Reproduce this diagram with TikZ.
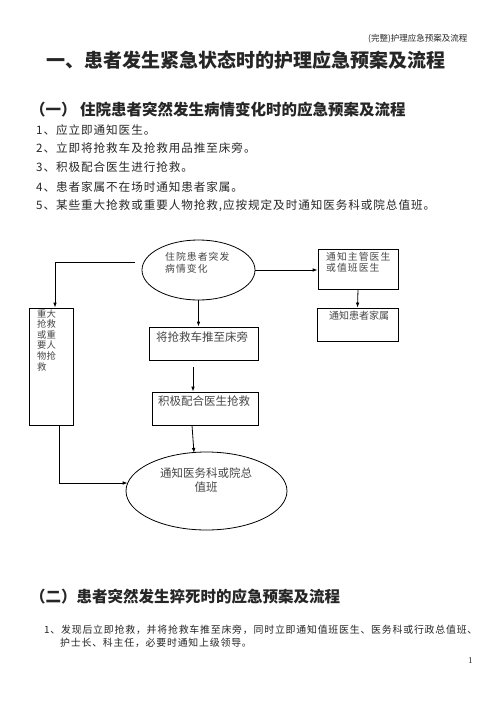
\documentclass[tikz,border=0pt]{standalone}
\usepackage{fontspec}
\setmainfont{Liberation Serif}
\newfontfamily\cjk{Noto Sans CJK SC}
\newfontfamily\cjks{Noto Sans CJK SC}[LetterSpace=8]
\newfontfamily\cjkw{Noto Sans CJK SC}[LetterSpace=11]
\usetikzlibrary{shapes.geometric,arrows.meta}
\begin{document}
\begin{tikzpicture}[x=1pt,y=-1pt,
  txt/.style={inner sep=0pt,anchor=west,text=black!85},
  box/.style={draw,line width=0.8pt,rectangle,inner sep=0pt},
  oval/.style={draw,line width=0.8pt,ellipse,inner sep=0pt},
  ftxt/.style={inner sep=0pt,text=black!72,font=\cjk},
  arr/.style={line width=0.8pt,-{Latex[length=5pt,width=3.6pt]}},
  ln/.style={line width=0.8pt}]
\useasboundingbox[fill=white] (0,0) rectangle (496,702);
% header
\node[txt,font=\cjk\fontsize{8.5}{10}\selectfont] (hdr) at (368,39) {(完整)护理应急预案及流程};
% title
\node[txt,font=\cjk\bfseries\fontsize{19}{22}\selectfont] (title) at (46,60) {一、患者发生紧急状态时的护理应急预案及流程};
% section 1
\node[txt,font=\cjk\bfseries\fontsize{15.5}{18}\selectfont] (s1) at (30,110) {（一） 住院患者突然发生病情变化时的应急预案及流程};
\begin{scope}[every node/.style={txt,font=\cjks\fontsize{11.6}{14}\selectfont}]
\node (i1) at (36,130) {1、应立即通知医生。};
\node (i2) at (36,148.5) {2、立即将抢救车及抢救用品推至床旁。};
\node (i3) at (36,167.5) {3、积极配合医生进行抢救。};
\node (i4) at (36,187) {4、患者家属不在场时通知患者家属。};
\node (i5) at (36,206) {5、某些重大抢救或重要人物抢救,应按规定及时通知医务科或院总值班。};
\end{scope}
% flowchart shapes
\node[oval,minimum width=113,minimum height=60] (e1) at (198.5,270) {};
\node[box,minimum width=44,minimum height=117] (lb) at (51,366.5) {};
\node[box,minimum width=109,minimum height=33] (b2) at (203.5,343.5) {};
\node[box,minimum width=106,minimum height=33] (b3) at (205,408.5) {};
\node[oval,minimum width=161,minimum height=78] (e2) at (206.5,491) {};
\node[box,minimum width=80,minimum height=40] (r1) at (358,269) {};
\node[box,minimum width=81,minimum height=33] (r2) at (357.5,324.5) {};
% flowchart texts
\node[ftxt,anchor=north west,align=left,font=\cjkw\fontsize{9.8}{12}\selectfont] (t1) at (165,252) {住院患者突发\\病情变化};
\node[ftxt,anchor=north west,align=left,font=\cjk\fontsize{9.3}{10.6}\selectfont] (tl) at (37,309) {重大\\抢救\\或重\\要人\\物抢\\救};
\node[ftxt,anchor=west,font=\cjk\fontsize{11.5}{13}\selectfont] (t2) at (156,337) {将抢救车推至床旁};
\node[ftxt,anchor=west,font=\cjk\fontsize{11.5}{13}\selectfont] (t3) at (158,401) {积极配合医生抢救};
\node[ftxt,align=center,font=\cjk\fontsize{11.5}{14}\selectfont] (t4) at (206,480) {通知医务科或院总\\值班};
\node[ftxt,anchor=north west,align=left,font=\cjkw\fontsize{9.8}{10.3}\selectfont] (tr1) at (326,252.5) {通知主管医生\\或值班医生};
\node[ftxt,anchor=west,font=\cjk\fontsize{10}{12}\selectfont] (tr2) at (329,316) {通知患者家属};
% connectors
\coordinate (c1) at (135,262);
\draw[arr] (c1) -| ([xshift=4pt]lb.north);
\draw[arr] (e1.south) -- (e1.south |- b2.north);
\coordinate (c2) at (193,367);
\draw[arr] (c2) -- (c2 |- b3.north);
\coordinate (c3) at (194,453);
\draw[arr] ([xshift=-13pt]b3.south) -- (c3);
\coordinate (c4) at (127.7,483);
\draw[arr] ([xshift=8pt]lb.south) |- (c4);
\draw[arr] (e1.east) -- (e1.east -| r1.west);
\draw[arr] (r1.south) -- (r2.north);
% section 2
\node[txt,font=\cjk\bfseries\fontsize{15.5}{18}\selectfont] (s2) at (30,597) {（二）患者突然发生猝死时的应急预案及流程};
\node[txt,font=\cjks\fontsize{9.9}{12}\selectfont] (j1) at (44,630) {1、发现后立即抢救，并将抢救车推至床旁，同时立即通知值班医生、医务科或行政总值班、};
\node[txt,font=\cjks\fontsize{9.9}{12}\selectfont] (j2) at (60,642.5) {护士长、科主任，必要时通知上级领导。};
\node[txt,font=\fontsize{9}{10}\selectfont] (pg) at (468,661) {1};
\end{tikzpicture}
\end{document}
